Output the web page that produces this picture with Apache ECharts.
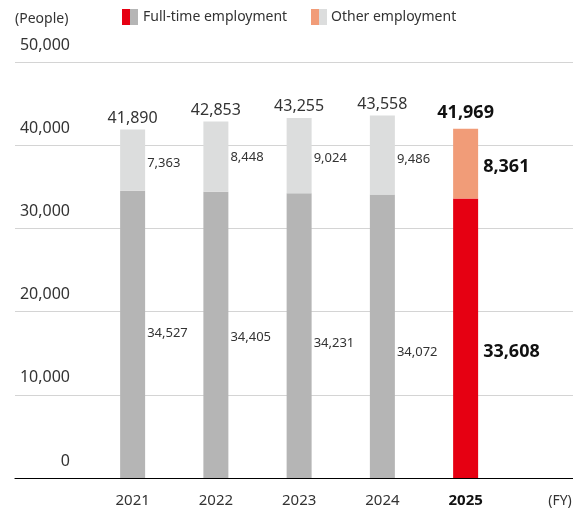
<!DOCTYPE html>
<html>
<head>
<meta charset="utf-8">
<script src="https://cdn.jsdelivr.net/npm/echarts@6/dist/echarts.min.js"></script>
<style>
html,body{margin:0;padding:0;background:#fff;}
#chart{width:573px;height:509px;}
</style>
</head>
<body>
<div id="chart"></div>
<script>
// ---- data ----
var years = ['2021', '2022', '2023', '2024', '2025'];
var fullTime = [34527, 34405, 34231, 34072, 33608];
var otherEmp = [7363, 8448, 9024, 9486, 8361];
var totals = [41890, 42853, 43255, 43558, 41969];
var yTicks = [0, 10000, 20000, 30000, 40000, 50000];

// ---- style ----
var FONT = '"Noto Sans", sans-serif';
var TXT = '#333333';
var RED = '#e60012', SALMON = '#f19c78', DGRAY = '#b5b5b5', LGRAY = '#dcdddd';
var fullLabelDy = [-1, 2, 8, 16, 14];
var otherLabelDy = [3, 1, 3, 4, 3];
var highlightIdx = 4;

function fmt(v) { return Number(v).toLocaleString('en-US'); }

var chart = echarts.init(document.getElementById('chart'), null, {renderer: 'canvas'});

function barItems(vals, color, hiColor, dys) {
  return vals.map(function (v, i) {
    var hi = i === highlightIdx;
    return {
      value: v,
      itemStyle: {color: hi ? hiColor : color},
      label: hi ? {fontSize: 18, fontWeight: 'bold', color: '#111', distance: 5, offset: [0, dys[i]]}
                : {offset: [0, dys[i]]}
    };
  });
}

var option = {
  animation: false,
  backgroundColor: '#ffffff',
  textStyle: {fontFamily: FONT},
  grid: [
    {left: 15, right: 0, top: 62, bottom: 31, containLabel: false},
    {left: 91, width: 416.25, top: 62, bottom: 31, containLabel: false}
  ],
  xAxis: [
    {gridIndex: 0, type: 'value', min: 0, max: 1,
     axisLine: {show: true, onZero: false, lineStyle: {color: '#000', width: 1.2}},
     axisTick: {show: false}, axisLabel: {show: false}, splitLine: {show: false}},
    {gridIndex: 1, type: 'category', data: years,
     axisLine: {show: false}, axisTick: {show: false},
     axisLabel: {
       margin: 15, fontSize: 15, color: TXT, fontFamily: FONT,
       formatter: function (v, i) { return i === highlightIdx ? '{b|' + v + '}' : v; },
       rich: {b: {fontSize: 15, fontWeight: 'bold', color: '#111', fontFamily: FONT}}
     }}
  ],
  yAxis: [
    {gridIndex: 0, type: 'value', min: yTicks[0], max: yTicks[yTicks.length - 1], interval: yTicks[1] - yTicks[0],
     axisLine: {show: false}, axisTick: {show: false},
     axisLabel: {inside: true, margin: 55, align: 'right', verticalAlign: 'bottom',
                 fontSize: 16, lineHeight: 16, padding: [0, 0, 9, 0], color: TXT, fontFamily: FONT,
                 formatter: function (v) { return fmt(v); }},
     splitLine: {show: true, lineStyle: {color: '#d4d4d4', width: 1}}},
    {gridIndex: 1, type: 'value', min: yTicks[0], max: yTicks[yTicks.length - 1], show: false}
  ],
  series: [
    {
      name: 'Full-time employment', type: 'bar', xAxisIndex: 1, yAxisIndex: 1, stack: 'emp',
      barWidth: 25,
      data: barItems(fullTime, DGRAY, RED, fullLabelDy),
      label: {show: true, position: 'right', distance: 2, fontSize: 13, color: TXT, fontFamily: FONT,
              formatter: function (p) { return fmt(p.value); }}
    },
    {
      name: 'Other employment', type: 'bar', xAxisIndex: 1, yAxisIndex: 1, stack: 'emp',
      barWidth: 25,
      data: barItems(otherEmp, LGRAY, SALMON, otherLabelDy),
      label: {show: true, position: 'right', distance: 2, fontSize: 13, color: TXT, fontFamily: FONT,
              formatter: function (p) { return fmt(p.value); }}
    },
    {
      name: 'Total', type: 'scatter', xAxisIndex: 1, yAxisIndex: 1,
      symbolSize: 1, itemStyle: {color: 'rgba(0,0,0,0)', opacity: 1}, silent: true,
      data: totals.map(function (v, i) {
        return i === highlightIdx
          ? {value: v, label: {fontSize: 18, fontWeight: 'bold', color: '#111', distance: 6}}
          : {value: v};
      }),
      label: {show: true, position: 'top', distance: 3, fontSize: 16, color: TXT, opacity: 1, fontFamily: FONT,
              formatter: function (p) { return fmt(p.value); }}
    }
  ],
  graphic: [
    {type: 'text', left: 15, top: 12, style: {text: '(People)', fontSize: 14, fill: TXT, fontFamily: FONT}},
    {type: 'rect', shape: {x: 122, y: 9, width: 8, height: 16}, style: {fill: RED}},
    {type: 'rect', shape: {x: 130, y: 9, width: 8, height: 16}, style: {fill: DGRAY}},
    {type: 'text', x: 143, y: 17, style: {text: 'Full-time employment', fontSize: 14, fill: TXT, fontFamily: FONT, verticalAlign: 'middle'}},
    {type: 'rect', shape: {x: 311, y: 9, width: 8, height: 16}, style: {fill: SALMON}},
    {type: 'rect', shape: {x: 319, y: 9, width: 8, height: 16}, style: {fill: LGRAY}},
    {type: 'text', x: 331, y: 17, style: {text: 'Other employment', fontSize: 14, fill: TXT, fontFamily: FONT, verticalAlign: 'middle'}},
    {type: 'text', x: 560, y: 501, style: {text: '(FY)', fontSize: 14, fill: TXT, fontFamily: FONT, align: 'center', verticalAlign: 'middle'}}
  ]
};
chart.setOption(option);
</script>
</body>
</html>
